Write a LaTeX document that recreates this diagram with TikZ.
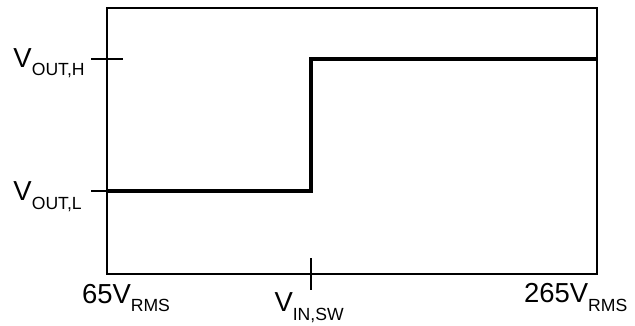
\documentclass[tikz,border=0pt]{standalone}
\usepackage{fontspec}
\setmainfont{Liberation Sans}
\newcommand{\mainsz}{\fontsize{20.6pt}{23pt}\selectfont}
\newcommand{\lbl}[2]{{\mainsz #1}\raisebox{-6.6pt}{\fontsize{13.2pt}{15pt}\selectfont #2}}
\tikzset{
  frame/.style={line width=1pt, black},
  trace/.style={line width=3.2pt, black, line join=miter},
  tick/.style={line width=1pt, black},
  lab/.style={inner sep=0pt, outer sep=0pt, anchor=base west}
}
\begin{document}
\begin{tikzpicture}[x=0.75pt,y=-0.75pt]
\useasboundingbox (0,0) rectangle (635,325);
% plot frame
\coordinate (tl) at (107,8);
\coordinate (br) at (597,274);
\draw[frame] (tl) rectangle (br);
% step trace
\coordinate (lo) at (107,191);
\coordinate (sw) at (311,191);
\coordinate (swh) at (311,59);
\coordinate (hi) at (597,59);
\draw[trace] (lo) -- (sw) -- (swh) -- (hi);
% ticks
\coordinate (thA) at (91,59);
\coordinate (thB) at (123,59);
\draw[tick] (thA) -- (thB);
\coordinate (tlA) at (91,191);
\draw[tick] (tlA) -- (lo);
\coordinate (tsA) at (311,258);
\coordinate (tsB) at (311,290);
\draw[tick] (tsA) -- (tsB);
% labels
\node[lab] (vh) at (13.5,67) {\lbl{V}{OUT,H}};
\node[lab] (vl) at (13.5,200.5) {\lbl{V}{OUT,L}};
\node[lab] (v65) at (82,303) {\lbl{65V}{RMS}};
\node[lab] (vsw) at (274.5,311.5) {\lbl{V}{IN,SW}};
\node[lab] (v265) at (524,302.5) {\lbl{265V}{RMS}};
\end{tikzpicture}
\end{document}
